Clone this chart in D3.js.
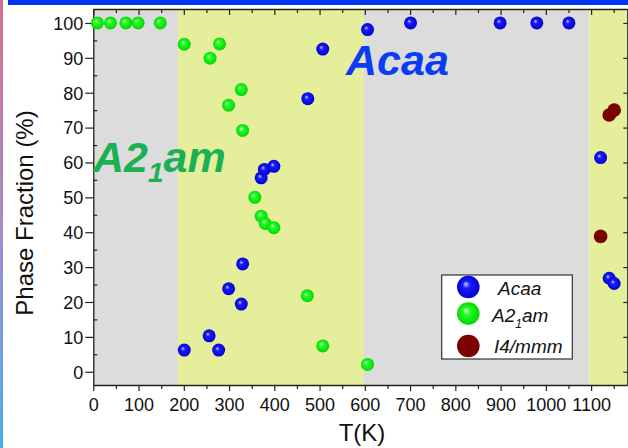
<!DOCTYPE html>
<html>
<head>
<meta charset="utf-8">
<script src="https://cdn.jsdelivr.net/npm/d3@7"></script>
<style>
    body { margin: 0; background: #fff; }
    svg { display: block; font-family: Arial, "Liberation Sans", sans-serif; }
</style>
</head>
<body>
<svg id="chart" width="628" height="448"></svg>
<script>
// Phase fractions (%), by temperature T (K)
const acaaT = [201, 256, 277, 299, 327, 330, 371, 378, 399, 474, 507, 606, 701, 899, 980, 1051, 1121, 1140, 1151];
const acaaF = [6.2, 10.3, 6.2, 23.8, 19.4, 30.9, 55.6, 58.0, 58.9, 78.3, 92.5, 98.1, 100, 100, 100, 100, 61.4, 26.8, 25.3];

const a21amT = [9, 38, 72, 99, 148, 201, 258, 279, 299, 327, 330, 357, 371, 380, 399, 473, 507, 606];
const a21amF = [100, 100, 100, 100, 100, 93.9, 89.9, 94.0, 76.4, 80.9, 69.2, 50.0, 44.6, 42.5, 41.3, 21.8, 7.4, 2.1];

const i4mmmT = [1121, 1140, 1151];
const i4mmmF = [38.8, 73.6, 75.0];

// shaded temperature ranges behind the points
const bandStart = [0, 187, 598, 1096];
const bandEnd = [187, 598, 1096, 1180];
const bandKind = ["gray", "yellow", "gray", "yellow"];

const xTicks = [0, 100, 200, 300, 400, 500, 600, 700, 800, 900, 1000, 1100];
const yTicks = [0, 10, 20, 30, 40, 50, 60, 70, 80, 90, 100];

const svg = d3.select("#chart");
const defs = svg.append("defs");

/** page decoration: side strip and top bar */
let strip = defs.append("linearGradient").attr("id", "strip")
    .attr("x1", 0).attr("y1", 0).attr("x2", 0).attr("y2", 1);
strip.append("stop").attr("offset", "0%").attr("stop-color", "#d8708f");
strip.append("stop").attr("offset", "50%").attr("stop-color", "#a38cc7");
strip.append("stop").attr("offset", "100%").attr("stop-color", "#48b0ec");
svg.append("rect").attr("x", 0).attr("y", 0).attr("width", 3).attr("height", 448).attr("fill", "url(#strip)");
svg.append("rect").attr("x", 8).attr("y", 0).attr("width", 620).attr("height", 5).attr("fill", "#0335f5");

/** sphere looking markers */
function ball(id, light, mid, dark) {
    let g = defs.append("radialGradient").attr("id", id)
        .attr("cx", "50%").attr("cy", "50%").attr("r", "55%")
        .attr("fx", "38%").attr("fy", "36%");
    g.append("stop").attr("offset", "0%").attr("stop-color", light);
    g.append("stop").attr("offset", "30%").attr("stop-color", mid);
    g.append("stop").attr("offset", "100%").attr("stop-color", dark);
}
ball("blueBall", "#c8ccff", "#1a1aff", "#0000c8");
ball("greenBall", "#e6ffe6", "#22ff22", "#00d000");

// Setup the scales
const x = d3.scaleLinear().domain([0, 1180]).range([93.3, 627.3]);
const y = d3.scaleLinear().domain([-3.8, 104]).range([385, 9]);

const bandColor = { gray: "#dcdcdc", yellow: "#e5ee9a" };
svg.append("g").selectAll("rect")
    .data(bandStart.map((s, i) => ({ s: s, e: bandEnd[i], k: bandKind[i] })))
    .join("rect")
    .attr("x", d => x(d.s))
    .attr("y", y(104))
    .attr("width", d => x(d.e) - x(d.s))
    .attr("height", y(-3.8) - y(104))
    .attr("fill", d => bandColor[d.k]);

// Axes, major and minor ticks
let xMinor = d3.range(50, 1180, 100);
let yMinor = d3.range(-5, 104, 10).filter(v => v > -3.8);

function styleAxis(g) {
    g.select(".domain").attr("stroke", "#222").attr("stroke-width", 1.3);
    g.selectAll(".tick line").attr("stroke", "#222").attr("stroke-width", 1.2);
    g.selectAll(".tick text").attr("font-size", 18).attr("fill", "#111")
        .attr("font-family", "Arial, 'Liberation Sans', sans-serif");
}

let bottom = svg.append("g").attr("transform", `translate(0, ${y(-3.8)})`)
    .call(d3.axisBottom(x).tickValues(xTicks).tickSize(6).tickSizeOuter(0).tickFormat(d3.format("d")));
bottom.call(styleAxis);
bottom.selectAll(".tick text").attr("dy", null).attr("y", 26);
svg.append("g").attr("transform", `translate(0, ${y(-3.8)})`)
    .call(d3.axisBottom(x).tickValues(xMinor).tickSize(4).tickFormat(""))
    .call(styleAxis).select(".domain").remove();

let left = svg.append("g").attr("transform", `translate(${x(0)}, 0)`)
    .call(d3.axisLeft(y).tickValues(yTicks).tickSize(8).tickSizeOuter(0));
left.call(styleAxis);
left.selectAll(".tick text").attr("x", -10).attr("dy", "0.35em");
svg.append("g").attr("transform", `translate(${x(0)}, 0)`)
    .call(d3.axisRight(y).tickValues(yMinor).tickSize(4).tickFormat(""))
    .call(styleAxis).select(".domain").remove();

// top and right frame with inward ticks
svg.append("g").attr("transform", `translate(0, ${y(104)})`)
    .call(d3.axisBottom(x).tickValues(xTicks).tickSize(6).tickSizeOuter(0).tickFormat(""))
    .call(styleAxis);
svg.append("g").attr("transform", `translate(0, ${y(104)})`)
    .call(d3.axisBottom(x).tickValues(xMinor).tickSize(4).tickFormat(""))
    .call(styleAxis).select(".domain").remove();
svg.append("g").attr("transform", `translate(${x(1180)}, 0)`)
    .call(d3.axisLeft(y).tickValues(yTicks).tickSize(4).tickSizeOuter(0).tickFormat(""))
    .call(styleAxis);

// axis titles
svg.append("text")
    .attr("transform", "translate(33, 213) rotate(-90)")
    .attr("text-anchor", "middle")
    .attr("font-size", 24)
    .attr("fill", "#111")
    .text("Phase Fraction (%)");
svg.append("text")
    .attr("x", 362).attr("y", 441)
    .attr("text-anchor", "middle")
    .attr("font-size", 24)
    .attr("fill", "#111")
    .text("T(K)");

// phase labels inside the plot
svg.append("text")
    .attr("x", 346).attr("y", 75)
    .attr("font-size", 43).attr("font-weight", "bold").attr("font-style", "italic")
    .attr("fill", "#0a3cf5")
    .text("Acaa");
let a2 = svg.append("text")
    .attr("x", 93).attr("y", 172)
    .attr("font-size", 43).attr("font-weight", "bold").attr("font-style", "italic")
    .attr("fill", "#1db052");
a2.append("tspan").text("A2");
a2.append("tspan").attr("font-size", 28).attr("dy", 10).text("1");
a2.append("tspan").attr("dy", -10).text("am");

// Populate the points
const series = [
    { name: "Acaa", t: acaaT, f: acaaF, fill: "url(#blueBall)", r: 6.5 },
    { name: "A21am", t: a21amT, f: a21amF, fill: "url(#greenBall)", r: 6.5 },
    { name: "I4/mmm", t: i4mmmT, f: i4mmmF, fill: "#7b0000", r: 6.8 }
];
series.forEach(s => {
    svg.append("g").selectAll("circle")
        .data(s.t.map((t, i) => [t, s.f[i]]))
        .join("circle")
        .attr("cx", d => x(d[0]))
        .attr("cy", d => y(d[1]))
        .attr("r", s.r)
        .attr("fill", s.fill);
});

// Legend
let legend = svg.append("g");
legend.append("rect")
    .attr("x", 441.7).attr("y", 275).attr("width", 130.6).attr("height", 84)
    .attr("fill", "#fff").attr("stroke", "#333").attr("stroke-width", 1.2);
let rowY = [287, 313.5, 346];
series.forEach((s, i) => {
    legend.append("circle")
        .attr("cx", 468.3).attr("cy", rowY[i]).attr("r", 11.3)
        .attr("fill", s.fill);
});
let lt = legend.append("g")
    .attr("font-size", 19).attr("font-style", "italic").attr("fill", "#111");
lt.append("text").attr("x", 498).attr("y", 295).text("Acaa");
let l2 = lt.append("text").attr("x", 492).attr("y", 322);
l2.append("tspan").text("A2");
l2.append("tspan").attr("font-size", 12).attr("dy", 6).text("1");
l2.append("tspan").attr("dy", -6).text("am");
lt.append("text").attr("x", 494).attr("y", 353).text("I4/mmm");
</script>
</body>
</html>
